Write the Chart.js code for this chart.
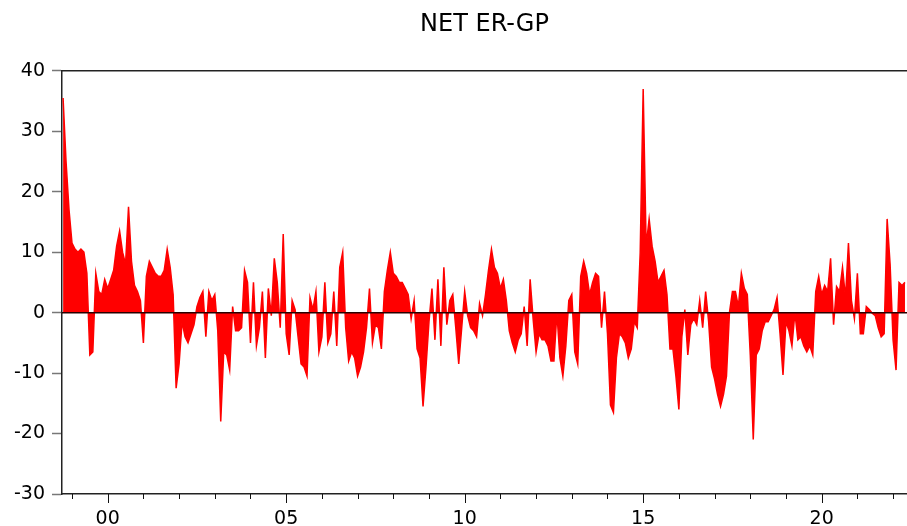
<!DOCTYPE html>
<html>
<head>
<meta charset="utf-8">
<script src="https://cdn.jsdelivr.net/npm/chart.js@4"></script>
<style>
    html, body { margin: 0; padding: 0; background: #fff; }
    #chart-container { width: 907px; height: 526px; }
</style>
</head>
<body>
<div id="chart-container"><canvas id="netChart"></canvas></div>
<script>
// monthly series, first observation Oct 1998
const START_YEAR = 1998.75;
const netErGp = [
    35.5, 25, 17, 11.5, 10.5, 10, 10.5, 10, 6.5, -7, -6.5, 6.5, 3.5, 3, 5.5, 4, 5.5, 7, 11, 13.5,
    10, 8, 17.5, 8.5, 4.5, 3.5, 2, -5, 6, 8.5,
    7.5, 6.5, 6, 6, 7, 10.5, 7.5, 3, -12.5, -8.5, -1.5, -4, -5, -3.5, -2, 1, 2.5, 3.5, -4, 3.5,
    2, 3, -3, -18, -6.5, -7, -9.5, 1,
    -3, -3, -2.5, 7, 5, -5, 5, -5.5, -2.5, 3.5, -7.5, 4, -0.5, 9, 5, -2.5, 13, -3.5, -7, 2,
    0.5, -4, -8.5, -9, -10.5, 2.5, 0.5, 3.5,
    -6.5, -4, 5, -5, -3.5, 3.5, -5.5, 7.5, 10, -2.5, -8, -6.5, -7.5, -10.5, -9, -6.5, -2.5, 4, -5, -2,
    -2.5, -6, 3.5, 7, 10, 6.5, 6, 5, 5,
    4, 3, -1, 2, -6, -7.5, -15.5, -9, -1.5, 4, -4.5, 5.5, -5.5, 7.5, -2, 2, 3, -2.5, -8.5, -2.5,
    3.5, -0.5, -2.5, -3, -4, 1.5, -0.5, 3, 7,
    10.5, 7.5, 6.5, 4, 5.5, 2, -3, -5, -6.5, -4.5, -3.5, 1, -5.5, 5.5, -1, -6.5, -3.5, -4.5, -4.5, -5.5,
    -8, -8, 0, -7.5, -10.5, -5.5, 2, 3, -6.5,
    -8.5, 6, 8.5, 6.5, 3, 5, 6.5, 6, -2.5, 3.5, -3.5, -15.3, -16.5, -7.5, -3.5, -4, -5, -7.5, -6, -1.5,
    -2.5, 10, 37, 11, 15.5, 11, 8.5, 5,
    6, 7, 3, -6, -6, -10.5, -16, -4, 0.5, -7, -2, -1, -2, 2, -2.5, 3.5, -1.5, -9, -11, -13.5,
    -15.5, -13.5, -10.5, 0, 3.5, 3.5, 1, 6.5, 4,
    3, -7, -21, -7, -6, -3, -1.5, -1.5, -0.5, 0.5, 2.5, -3.5, -10.3, -1.5, -3, -5.5, 0, -4.5, -4, -5.5,
    -6.5, -5.5, -7, 3.5, 6, 3, 4.5, 3.5,
    9, -2, 4.3, 3.5, 7.5, 2.5, 11.5, 2, -1, 6.5, -3.5, -3.5, 1, 0.5, -0.1, -0.5, -2.5, -4, -3.5, 15.5,
    8, -4.5, -9.5, 5, 4.5, 5
];
const yearTicks = [1999, 2000, 2001, 2002, 2003, 2004, 2005, 2006, 2007, 2008, 2009, 2010,
    2011, 2012, 2013, 2014, 2015, 2016, 2017, 2018, 2019, 2020, 2021, 2022];
const yTicks = [40, 30, 20, 10, 0, -10, -20, -30];

const FONT = 'DejaVu Sans';

// top frame, zero line and year ticks (long ones on labelled years)
const framePlugin = {
    id: 'frame',
    afterDatasetsDraw(chart) {
        const { ctx, chartArea, scales } = chart;
        const y0 = scales.y.getPixelForValue(0);
        ctx.save();
        ctx.strokeStyle = '#2a0000';
        ctx.lineWidth = 1.5;
        ctx.beginPath();
        ctx.moveTo(chartArea.left, y0);
        ctx.lineTo(chartArea.right, y0);
        ctx.stroke();
        ctx.restore();
    },
    afterDraw(chart) {
        const { ctx, chartArea, scales } = chart;
        ctx.save();
        ctx.strokeStyle = '#222';
        ctx.lineWidth = 1.5;
        ctx.beginPath();
        ctx.moveTo(chartArea.left, chartArea.top);
        ctx.lineTo(chartArea.right, chartArea.top);
        ctx.stroke();
        ctx.lineWidth = 1;
        ctx.strokeStyle = '#111';
        yearTicks.forEach(function (yr) {
            const px = Math.round(scales.x.getPixelForValue(yr)) + 0.5;
            const len = yr % 5 === 0 ? 9 : 5;
            ctx.beginPath();
            ctx.moveTo(px, chartArea.bottom);
            ctx.lineTo(px, chartArea.bottom + len);
            ctx.stroke();
        });
        ctx.restore();
    }
};

const ctx = document.getElementById('netChart').getContext('2d');
let netChart = new Chart(ctx, {
    type: 'line',
    data: {
        datasets: [{
            label: 'NET ER-GP',
            data: netErGp.map(function (v, i) { return { x: START_YEAR + i / 12, y: v }; }),
            borderColor: '#ff0000',
            backgroundColor: '#ff0000',
            borderWidth: 1.5,
            pointRadius: 0,
            tension: 0,
            fill: 'origin'
        }]
    },
    options: {
        responsive: true,
        maintainAspectRatio: false,
        animation: false,
        layout: { padding: 0 },
        plugins: {
            legend: { display: false },
            tooltip: { enabled: false },
            title: {
                display: true,
                text: 'NET ER-GP',
                fullSize: false,
                color: '#000',
                font: { family: FONT, size: 24, weight: 'normal' },
                padding: { top: 10, bottom: 32 }
            }
        },
        scales: {
            x: {
                type: 'linear',
                min: 1998.72,
                max: 2022.39,
                afterBuildTicks: function (scale) {
                    scale.ticks = yearTicks.map(function (yr) { return { value: yr }; });
                },
                afterFit: function (scale) { scale.height = 32; },
                ticks: {
                    autoSkip: false,
                    maxRotation: 0,
                    padding: 5,
                    color: '#000',
                    font: { family: FONT, size: 19 },
                    callback: function (v) {
                        return v % 5 === 0 ? String(v % 100).padStart(2, '0') : '';
                    }
                },
                grid: {
                    drawOnChartArea: false,
                    tickLength: 9,
                    tickColor: 'rgba(0,0,0,0)'
                },
                border: { display: true, color: '#222', width: 1.5 }
            },
            y: {
                min: -30,
                max: 40,
                afterBuildTicks: function (scale) {
                    scale.ticks = yTicks.map(function (v) { return { value: v }; });
                },
                afterFit: function (scale) { scale.width = 62; },
                ticks: {
                    padding: 7,
                    color: '#000',
                    font: { family: FONT, size: 19 }
                },
                grid: {
                    drawOnChartArea: false,
                    tickLength: 10,
                    tickColor: '#777',
                    tickWidth: 1.5
                },
                border: { display: true, color: '#222', width: 1.5 }
            }
        }
    },
    plugins: [framePlugin]
});
</script>
</body>
</html>
